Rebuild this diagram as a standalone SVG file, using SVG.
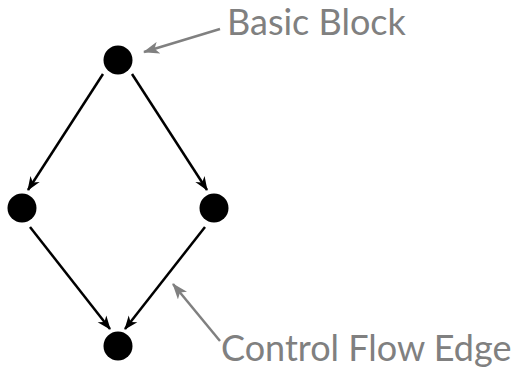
<svg xmlns="http://www.w3.org/2000/svg" width="518" height="368" viewBox="0 0 518 368">
<style>
.node{fill:#000}
.edge{stroke:#000;stroke-width:2.5;fill:none;marker-end:url(#ah)}
.note{stroke:#808080;stroke-width:2.5;fill:none;marker-end:url(#ag)}
.lbl{font-family:Lato,"Open Sans","Liberation Sans",sans-serif;font-size:36px;fill:#808080}
</style>
<defs>
<marker id="ah" markerUnits="userSpaceOnUse" markerWidth="14" markerHeight="12" refX="13" refY="5.5" orient="auto" viewBox="0 0 14 11">
<path d="M0,0 L14,5.5 L0,11 L4,5.5 z" fill="#000"/>
</marker>
<marker id="ag" markerUnits="userSpaceOnUse" markerWidth="16" markerHeight="12" refX="15" refY="6" orient="auto" viewBox="0 0 16 12">
<path d="M0,0 L16,6 L0,12 L4,6 z" fill="#808080"/>
</marker>
</defs>
<g id="connectors">
<line class="edge" x1="103" y1="74" x2="28" y2="190"/>
<line class="edge" x1="132" y1="74" x2="207" y2="190"/>
<line class="edge" x1="30" y1="227" x2="110" y2="329"/>
<line class="edge" x1="205" y1="227" x2="125" y2="329"/>
<line class="note" x1="220" y1="29" x2="144" y2="52"/>
<line class="note" x1="220" y1="341" x2="173" y2="284"/>
</g>
<g id="n1"><circle class="node" cx="118" cy="60" r="14.5"/></g>
<g id="n2"><circle class="node" cx="22" cy="208" r="14.5"/></g>
<g id="n3"><circle class="node" cx="214" cy="208" r="14.5"/></g>
<g id="n4"><circle class="node" cx="118" cy="346" r="14.5"/></g>
<g id="label-bb"><text class="lbl" x="227" y="35">Basic Block</text></g>
<g id="label-cfe"><text class="lbl" x="221" y="361">Control Flow Edge</text></g>
</svg>
